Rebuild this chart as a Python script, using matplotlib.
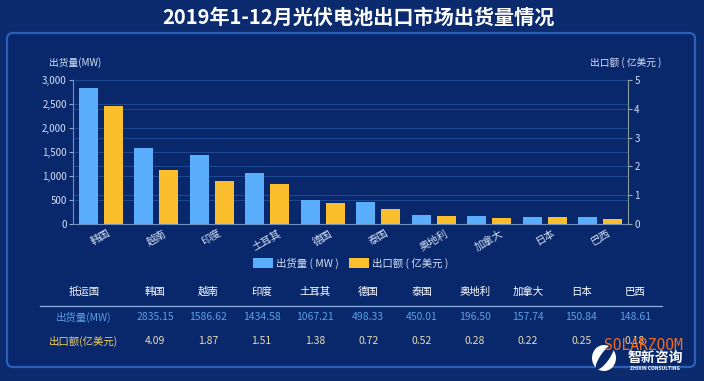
import matplotlib
matplotlib.use('Agg')
import matplotlib.pyplot as plt
from matplotlib.patches import FancyBboxPatch, Patch, Ellipse
import numpy as np

plt.rcParams['font.family'] = ['Noto Sans CJK SC', 'DejaVu Sans']

countries = ['韩国', '越南', '印度', '土耳其', '德国', '泰国', '奥地利', '加拿大', '日本', '巴西']
shipments_mw = [2835.15, 1586.62, 1434.58, 1067.21, 498.33, 450.01, 196.50, 157.74, 150.84, 148.61]
export_100m_usd = [4.09, 1.87, 1.51, 1.38, 0.72, 0.52, 0.28, 0.22, 0.25, 0.18]
left_ticks = [0, 500, 1000, 1500, 2000, 2500, 3000]
right_ticks = [0, 1, 2, 3, 4, 5]

BG = '#0b2b6e'
PANEL = '#09286c'
BLUE = '#5aaefc'
YELLOW = '#fbbf2e'
TXT = '#d3e0f5'
GRID = '#1f4a93'

W, H = 704, 381
fig = plt.figure(figsize=(W / 100, H / 100), dpi=100, facecolor=BG)


def fx(px):
    return px / W


def fy(py):
    return 1 - py / H


# panel behind the chart
panel = FancyBboxPatch((7 / 100, (H - 367) / 100), 688 / 100, 334 / 100,
                       boxstyle='round,pad=0,rounding_size=0.06',
                       transform=fig.dpi_scale_trans, facecolor=PANEL,
                       edgecolor='#2d5fb8', linewidth=1.6, zorder=-1)
fig.patches.append(panel)

fig.text(fx(358), fy(17), '2019年1-12月光伏电池出口市场出货量情况', ha='center', va='center',
         color='white', fontsize=14.5, fontweight='bold')

ax = fig.add_axes([fx(73), 157 / H, 555 / W, 144 / H])
ax.set_facecolor('none')
x = np.arange(len(countries))
bw = 0.35
ax.bar(x - 0.225, shipments_mw, width=bw, color=BLUE, zorder=3)
ax.set_xlim(-0.5, len(countries) - 0.5)
ax.set_ylim(0, 3000)
ax.set_yticks(left_ticks)
ax.set_yticklabels([f'{t:,}' for t in left_ticks])
ax.set_xticks(x)
ax.set_xticklabels(countries, rotation=30, ha='center')
ax.tick_params(axis='x', length=0, pad=3, labelsize=7.5, labelcolor=TXT)
ax.tick_params(axis='y', length=3, width=0.8, color='#8fa8d0', pad=1.5, labelsize=7, labelcolor=TXT)
ax.grid(axis='y', color=GRID, linewidth=0.7, zorder=0)
for s in ['top', 'right']:
    ax.spines[s].set_visible(False)
ax.spines['left'].set_color('#6f8fc0')
ax.spines['bottom'].set_color('#6f8fc0')

ax2 = ax.twinx()
ax2.bar(x + 0.225, export_100m_usd, width=bw, color=YELLOW, zorder=3)
ax2.set_ylim(0, 5)
ax2.set_yticks(right_ticks)
ax2.tick_params(axis='y', length=3, width=0.8, color='#9aa8a0', pad=1.5, labelsize=7, labelcolor=TXT)
for s in ['top', 'left', 'bottom']:
    ax2.spines[s].set_visible(False)
ax2.spines['right'].set_color('#8a9a98')

# right-axis gridlines drawn on the lower axes so they stay behind the blue bars
for t in right_ticks[1:]:
    yv = ax.transData.inverted().transform(ax2.transData.transform((0, t)))[1]
    ax.axhline(yv, color=GRID, linewidth=0.7, zorder=0)

fig.text(fx(75), fy(63), '出货量(MW)', ha='center', va='center', color=TXT, fontsize=7)
fig.text(fx(626), fy(63), '出口额 ( 亿美元 )', ha='center', va='center', color=TXT, fontsize=7)

handles = [Patch(facecolor=BLUE, label='出货量 ( MW )'),
           Patch(facecolor=YELLOW, label='出口额 ( 亿美元 )')]
fig.legend(handles=handles, loc='center', bbox_to_anchor=(fx(351), fy(263)), ncol=2,
           frameon=False, fontsize=7.5, labelcolor=TXT, handlelength=1.9, handleheight=1.2,
           handletextpad=0.3, columnspacing=1.0)

# table under the chart
col_x = [155 + 53.3 * i for i in range(len(countries))]
row_y = [292, 317, 341]
fig.text(fx(84), fy(row_y[0]), '抵运国', ha='center', va='center', color='white', fontsize=7.5)
fig.text(fx(84), fy(row_y[1]), '出货量(MW)', ha='center', va='center', color='#5b9fe6', fontsize=7.5)
fig.text(fx(84), fy(row_y[2]), '出口额(亿美元)', ha='center', va='center', color='#f0d060', fontsize=7.5)
for cx, name, mw, usd in zip(col_x, countries, shipments_mw, export_100m_usd):
    fig.text(fx(cx), fy(row_y[0]), name, ha='center', va='center', color='white', fontsize=7.5)
    fig.text(fx(cx), fy(row_y[1]), f'{mw:.2f}', ha='center', va='center', color='#5b9fe6', fontsize=7.5)
    fig.text(fx(cx), fy(row_y[2]), f'{usd:.2f}', ha='center', va='center', color='#e8dcb0', fontsize=7.5)
fig.add_artist(plt.Line2D([fx(40), fx(662)], [fy(306), fy(306)], color='#8fb0e0', linewidth=0.9))

# watermark
fig.text(fx(643), fy(345), 'SOLARZOOM', ha='center', va='center', color='#f26b1d',
         fontsize=10.5, family='DejaVu Sans Mono')
fig.text(fx(655), fy(358), '智新咨询', ha='center', va='center', color='white',
         fontsize=10, fontweight='bold')
fig.text(fx(655), fy(369), 'ZHIXIN CONSULTING', ha='center', va='center', color='white',
         fontsize=3.5, fontweight='bold')
logo = Ellipse((604 / 100, (H - 358) / 100), 0.24, 0.26, transform=fig.dpi_scale_trans,
               facecolor='white', edgecolor='none')
fig.patches.append(logo)
slash = Ellipse((605 / 100, (H - 357) / 100), 0.09, 0.30, angle=-35, transform=fig.dpi_scale_trans,
                facecolor=PANEL, edgecolor='none')
fig.patches.append(slash)

fig.savefig('out.png', dpi=100, facecolor=BG)
